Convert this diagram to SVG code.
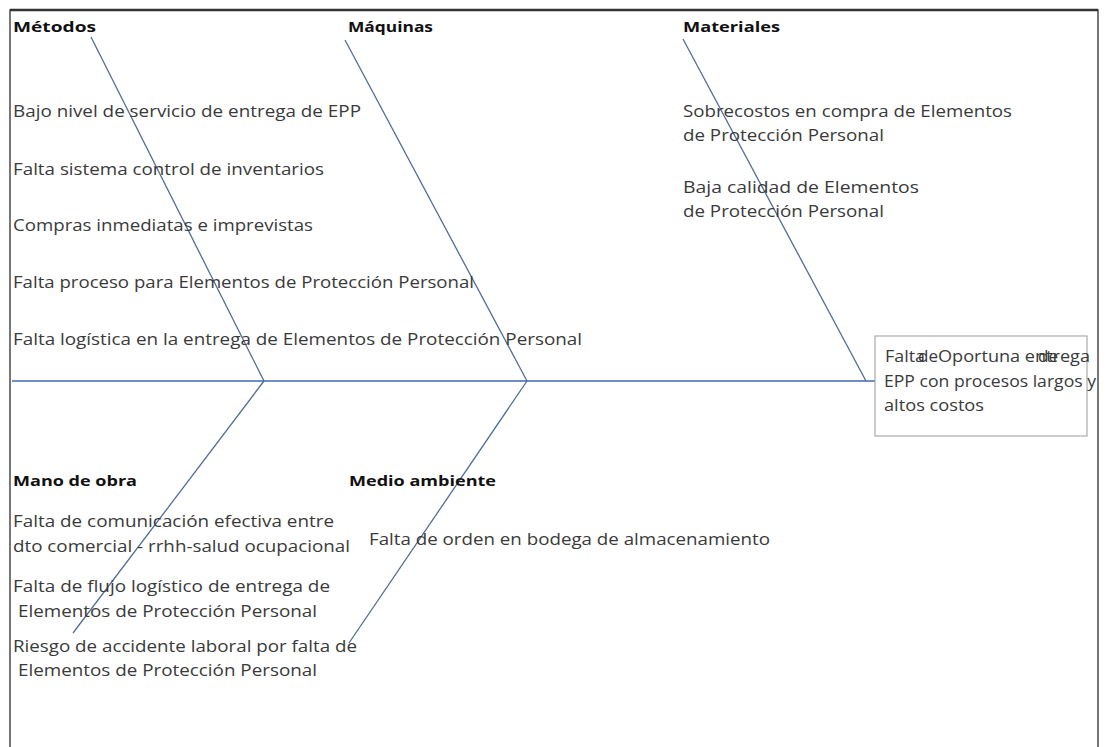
<svg xmlns="http://www.w3.org/2000/svg" width="1109" height="747" viewBox="0 0 1109 747">
<style>
.t{font-family:"Open Sans","Liberation Sans",sans-serif;font-size:15.5px;fill:#3a3a3a}
.h{font-family:"Open Sans","Liberation Sans",sans-serif;font-size:15px;font-weight:bold;fill:#111}
.bone{stroke:#4f6d9a;stroke-width:1.3;fill:none}
.spine{stroke:#6e8fbf;stroke-width:1.8;fill:none}
</style>
<rect width="1109" height="747" fill="#fff"/>
<g id="frame">
<path d="M10,760 V10 H1098 V760" fill="none" stroke="#555" stroke-width="1.6"/>
<line x1="10" y1="10" x2="1098" y2="10" stroke="#333" stroke-width="2.4"/>
</g>
<g id="connectors">
<line class="spine" x1="12" y1="381" x2="875" y2="381"/>
<line class="bone" x1="91" y1="37" x2="264" y2="381"/>
<line class="bone" x1="345" y1="40" x2="527" y2="381"/>
<line class="bone" x1="683" y1="39" x2="866" y2="381"/>
<line class="bone" x1="264" y1="381" x2="73" y2="633"/>
<line class="bone" x1="527" y1="381" x2="349" y2="643"/>
</g>
<g id="effect">
<rect x="875" y="336" width="212" height="100" fill="#fff" stroke="#aaa" stroke-width="1.2"/>
<text class="t" x="885" y="362" textLength="40" lengthAdjust="spacingAndGlyphs">Falta</text>
<text class="t" x="918" y="362" textLength="20" lengthAdjust="spacingAndGlyphs">de</text>
<text class="t" x="938" y="362" textLength="152" lengthAdjust="spacingAndGlyphs">Oportuna entrega</text>
<text class="t" x="1038" y="362" textLength="20" lengthAdjust="spacingAndGlyphs">de</text>
<text class="t" x="884" y="387" textLength="212" lengthAdjust="spacingAndGlyphs">EPP con procesos largos y</text>
<text class="t" x="884" y="411" textLength="100" lengthAdjust="spacingAndGlyphs">altos costos</text>
</g>
<g id="metodos">
<text class="h" x="13" y="32" textLength="83" lengthAdjust="spacingAndGlyphs">Métodos</text>
<text class="t" x="13" y="117" textLength="348" lengthAdjust="spacingAndGlyphs">Bajo nivel de servicio de entrega de EPP</text>
<text class="t" x="13" y="175" textLength="311" lengthAdjust="spacingAndGlyphs">Falta sistema control de inventarios</text>
<text class="t" x="13" y="231" textLength="300" lengthAdjust="spacingAndGlyphs">Compras inmediatas e imprevistas</text>
<text class="t" x="13" y="288" textLength="461" lengthAdjust="spacingAndGlyphs">Falta proceso para Elementos de Protección Personal</text>
<text class="t" x="13" y="345" textLength="569" lengthAdjust="spacingAndGlyphs">Falta logística en la entrega de Elementos de Protección Personal</text>
</g>
<g id="maquinas">
<text class="h" x="348" y="32" textLength="85" lengthAdjust="spacingAndGlyphs">Máquinas</text>
</g>
<g id="materiales">
<text class="h" x="683" y="32" textLength="97" lengthAdjust="spacingAndGlyphs">Materiales</text>
<text class="t" x="683" y="117" textLength="329" lengthAdjust="spacingAndGlyphs">Sobrecostos en compra de Elementos</text>
<text class="t" x="683" y="141" textLength="201" lengthAdjust="spacingAndGlyphs">de Protección Personal</text>
<text class="t" x="683" y="193" textLength="236" lengthAdjust="spacingAndGlyphs">Baja calidad de Elementos</text>
<text class="t" x="683" y="217" textLength="201" lengthAdjust="spacingAndGlyphs">de Protección Personal</text>
</g>
<g id="mano-de-obra">
<text class="h" x="13" y="486" textLength="124" lengthAdjust="spacingAndGlyphs">Mano de obra</text>
<text class="t" x="13" y="527" textLength="321" lengthAdjust="spacingAndGlyphs">Falta de comunicación efectiva entre</text>
<text class="t" x="13" y="552" textLength="337" lengthAdjust="spacingAndGlyphs">dto comercial - rrhh-salud ocupacional</text>
<text class="t" x="13" y="592" textLength="317" lengthAdjust="spacingAndGlyphs">Falta de flujo logístico de entrega de</text>
<text class="t" x="18" y="617" textLength="299" lengthAdjust="spacingAndGlyphs">Elementos de Protección Personal</text>
<text class="t" x="13" y="652" textLength="344" lengthAdjust="spacingAndGlyphs">Riesgo de accidente laboral por falta de</text>
<text class="t" x="18" y="676" textLength="299" lengthAdjust="spacingAndGlyphs">Elementos de Protección Personal</text>
</g>
<g id="medio-ambiente">
<text class="h" x="349" y="486" textLength="147" lengthAdjust="spacingAndGlyphs">Medio ambiente</text>
<text class="t" x="369" y="545" textLength="401" lengthAdjust="spacingAndGlyphs">Falta de orden en bodega de almacenamiento</text>
</g>
</svg>
